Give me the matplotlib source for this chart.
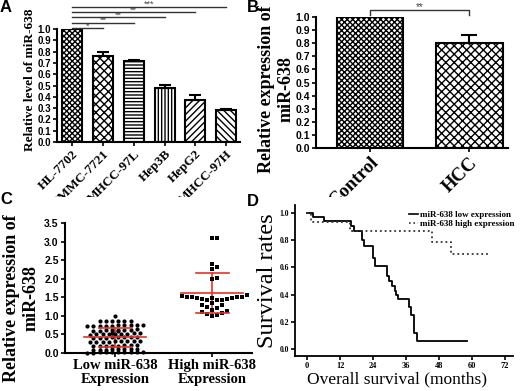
import numpy as np
import matplotlib
matplotlib.use("Agg")
import matplotlib.pyplot as plt
from matplotlib.lines import Line2D
from matplotlib.transforms import Bbox, TransformedBbox

SERIF = "Liberation Serif"
SANS = "Liberation Sans"
W, H = 520, 391

# panel A - cell lines
cell_lines = ["HL-7702", "SMMC-7721", "MHCC-97L", "Hep3B", "HepG2", "MHCC-97H"]
cell_level = [1.0, 0.76, 0.715, 0.475, 0.375, 0.28]
cell_err = [0.0, 0.035, 0.015, 0.03, 0.045, 0.01]
cell_hatch = ["xxxxxx", "xxxx", "-----", "|||||", "/////", "\\\\\\\\\\"]
cell_stars = ["*", "**", "**", "**", "***"]

# panel B - tissues
tissues = ["Control", "HCC"]
tissue_level = [1.0, 0.80]
tissue_err = [0.0, 0.065]
tissue_hatch = ["xxxxxx", "xxxx"]

# panel C - scatter
low_expr = [1.0,
            0.87, 0.86, 0.85, 0.85, 0.86, 0.87,
            0.76, 0.75, 0.74, 0.73, 0.75, 0.74, 0.76, 0.72, 0.73, 0.75,
            0.64, 0.63, 0.62, 0.60, 0.61, 0.62, 0.63, 0.59, 0.60,
            0.53, 0.52, 0.51, 0.50, 0.52, 0.53, 0.50, 0.51, 0.54, 0.49,
            0.43, 0.42, 0.41, 0.40, 0.42, 0.44, 0.41, 0.43,
            0.32, 0.31, 0.30, 0.29, 0.31, 0.33, 0.30, 0.32, 0.29,
            0.21, 0.20, 0.19, 0.18, 0.20, 0.22, 0.19, 0.21,
            0.11, 0.10, 0.09, 0.08, 0.10, 0.12, 0.09, 0.11,
            0.03, 0.02, 0.01, 0.02, 0.03, 0.04, 0.02, 0.01, 0.03, 0.02]
high_expr = [3.1, 3.1, 2.4, 2.32, 2.25, 2.02, 2.0,
             1.55, 1.54, 1.52, 1.51, 1.5, 1.5, 1.49, 1.48, 1.47, 1.46, 1.45,
             1.44, 1.43, 1.42, 1.35, 1.3, 1.28, 1.25, 1.2, 1.17, 1.12, 1.1,
             1.08, 1.05, 1.02, 1.0]
group_names = ["Low miR-638\nExpression", "High miR-638\nExpression"]
group_mean = [0.42, 1.62]
group_sd = [0.25, 0.54]

# panel D - survival
low_months = [0, 2.0, 6.0, 15.8, 17.0, 19.9, 20.8, 23.8, 24.8, 29.0, 29.7,
              30.8, 31.8, 32.4, 33.2, 37.0, 37.8, 38.9, 39.8]
low_surv = [1.0, 0.97, 0.94, 0.905, 0.87, 0.80, 0.76, 0.67, 0.61, 0.54, 0.50,
            0.46, 0.43, 0.40, 0.37, 0.31, 0.25, 0.12, 0.06]
low_end = 58
high_months = [0, 1.5, 15.5, 45.3, 52.4]
high_surv = [1.0, 0.935, 0.87, 0.79, 0.70]
high_end = 66


def px_axes(l, t, r, b):
    return fig.add_axes([l / W, 1 - b / H, (r - l) / W, (b - t) / H])


def style(ax, lw=1.5):
    for s in ["top", "right"]:
        ax.spines[s].set_visible(False)
    for s in ["left", "bottom"]:
        ax.spines[s].set_linewidth(lw)
    ax.tick_params(direction="out", length=3, width=1.2, pad=1.5)


def swarm(vals, xpu, ypu, d):
    # greedy beeswarm in pixel space
    vals = np.asarray(vals)
    xs = np.zeros(len(vals))
    placed = []
    offs = [0]
    for j in range(1, 60):
        offs += [j * d * 0.5, -j * d * 0.5]
    for i in np.argsort(vals):
        y = vals[i] * ypu
        for o in offs:
            if all((o - a) ** 2 + (y - b) ** 2 >= d * d for a, b in placed):
                break
        placed.append((o, y))
        xs[i] = o / xpu
    return xs


def rows(vals, xpu, d, gap=0.05):
    # graphpad style: close values share a row, spread evenly
    vals = np.asarray(vals)
    order = np.argsort(vals)
    xs = np.zeros(len(vals))
    groups, cur = [], [order[0]]
    for i in order[1:]:
        if vals[i] - vals[cur[0]] > gap:
            groups.append(cur)
            cur = [i]
        else:
            cur.append(i)
    groups.append(cur)
    for g in groups:
        n = len(g)
        for j, i in enumerate(g):
            xs[i] = (j - (n - 1) / 2) * d / xpu
    return xs


fig = plt.figure(figsize=(W / 100, H / 100), dpi=100)
clip = TransformedBbox(Bbox([[0, 0.496], [1, 1]]), fig.transFigure)

# ---------- A ----------
ax = px_axes(57, 29, 240, 142)
x = np.arange(len(cell_lines))
ax.bar(x, cell_level, width=0.65, color="white", edgecolor="black",
       linewidth=1.5, hatch=cell_hatch)
ax.errorbar(x, cell_level, yerr=[np.zeros(len(x)), cell_err], fmt="none",
            ecolor="black", elinewidth=1.5, capsize=4, capthick=1.5)
ax.set_xlim(-0.49, 5.45)
ax.set_ylim(0, 1.0)
ax.set_yticks(np.arange(0, 1.01, 0.1))
ax.set_yticklabels([f"{v:.1f}" for v in np.arange(0, 1.01, 0.1)],
                   fontfamily=SANS, fontweight="bold", fontsize=7)
ax.set_xticks(x)
ax.set_xticklabels(cell_lines, rotation=45, ha="right", va="top",
                   rotation_mode="anchor", fontfamily=SERIF,
                   fontweight="bold", fontsize=9.5)
for lbl in ax.get_xticklabels():
    lbl.set_clip_box(clip)
    lbl.set_clip_on(True)
style(ax)
ax.set_ylabel("Relative level of miR-638", fontfamily=SERIF,
              fontweight="bold", fontsize=9.5)
ax.yaxis.set_label_coords(-0.115, 0.55)
for i, st in enumerate(cell_stars):
    yy = 1.01 + 0.047 * i
    ax.plot([0, i + 1], [yy, yy], color="#333333", lw=1, clip_on=False)
    ax.text((i + 1) / 2, yy + 0.018, st, ha="center", va="center",
            fontsize=6.5, color="#444444", fontfamily=SANS)

# ---------- B ----------
ax = px_axes(316, 17, 508, 148)
x = np.arange(len(tissues))
ax.bar(x, tissue_level, width=0.67, color="white", edgecolor="black",
       linewidth=1.5, hatch=tissue_hatch)
ax.errorbar(x, tissue_level, yerr=[np.zeros(len(x)), tissue_err], fmt="none",
            ecolor="black", elinewidth=1.5, capsize=6, capthick=1.5)
ax.set_xlim(-0.545, 1.39)
ax.set_ylim(0, 1.0)
ax.set_yticks(np.arange(0, 1.01, 0.1))
ax.set_yticklabels([f"{v:.1f}" for v in np.arange(0, 1.01, 0.1)],
                   fontfamily=SANS, fontweight="bold", fontsize=7.5)
ax.set_xticks(x)
ax.set_xticklabels(tissues, rotation=45, ha="right", va="top",
                   rotation_mode="anchor", fontfamily=SERIF,
                   fontweight="bold", fontsize=13.5)
for lbl in ax.get_xticklabels():
    lbl.set_clip_box(clip)
    lbl.set_clip_on(True)
style(ax)
ax.set_ylabel("Relative expression of\nmiR-638", fontfamily=SERIF,
              fontweight="bold", fontsize=13)
ax.yaxis.set_label_coords(-0.11, 0.45)
ax.plot([0, 0, 1, 1], [1.015, 1.052, 1.052, 1.015], color="#333333", lw=1,
        clip_on=False)
ax.text(0.5, 1.075, "**", ha="center", va="center", fontsize=7,
        color="#444444", fontfamily=SANS)

# ---------- C ----------
ax = px_axes(65, 223, 252, 353)
xpu, ypu = 97.0, 130 / 3.5
xs_low = rows(low_expr, xpu, 6.2)
xs_high = swarm(high_expr, xpu, ypu, 5.0)
ax.scatter(0 + xs_low, low_expr, s=9, marker="o", color="black", zorder=3,
           linewidths=0, clip_on=False)
ax.scatter(1 + xs_high, high_expr, s=11, marker="s", color="black", zorder=3,
           linewidths=0, clip_on=False)
red = "#e3342f"
for g in range(2):
    m, sd = group_mean[g], group_sd[g]
    ax.plot([g - 0.32, g + 0.32], [m, m], color=red, lw=1.2, zorder=4)
    ax.plot([g - 0.17, g + 0.17], [m + sd, m + sd], color=red, lw=1.2, zorder=4)
    ax.plot([g - 0.17, g + 0.17], [m - sd, m - sd], color=red, lw=1.2, zorder=4)
    ax.plot([g, g], [m - sd, m + sd], color=red, lw=1.2, zorder=2)
ax.set_xlim(-0.515, 1.41)
ax.set_ylim(0, 3.5)
ax.set_yticks(np.arange(0, 3.51, 0.5))
ax.set_yticklabels([f"{v:.1f}" for v in np.arange(0, 3.51, 0.5)],
                   fontfamily=SANS, fontweight="bold", fontsize=7.5)
ax.set_xticks([0, 1])
ax.set_xticklabels(group_names, fontfamily=SERIF, fontweight="bold",
                   fontsize=10.5, linespacing=1.1)
style(ax)
ax.set_ylabel("Relative expression of\nmiR-638", fontfamily=SERIF,
              fontweight="bold", fontsize=13)
ax.yaxis.set_label_coords(-0.135, 0.42)

# ---------- D ----------
ax = px_axes(295, 205, 513, 356)
ax.step(low_months + [low_end], low_surv + [low_surv[-1]], where="post",
        color="black", lw=1.3)
ax.step(high_months + [high_end], high_surv + [high_surv[-1]], where="post",
        color="#333333", lw=1.3, linestyle=":")
ax.set_xlim(-4.4, 74.9)
ax.set_ylim(-0.051, 1.059)
ax.set_xticks(np.arange(0, 73, 12))
ax.set_xticklabels([str(v) for v in range(0, 73, 12)], fontfamily=SERIF,
                   fontweight="bold", fontsize=6)
ax.set_yticks(np.arange(0, 1.01, 0.2))
ax.set_yticklabels([f"{v:.1f}" for v in np.arange(0, 1.01, 0.2)],
                   fontfamily=SERIF, fontweight="bold", fontsize=5.5)
style(ax, lw=1.3)
ax.set_ylabel("Survival rates", fontfamily=SERIF, fontsize=17.5)
ax.yaxis.set_label_coords(-0.08, 0.5)
ax.set_xlabel("Overall survival (months)", fontfamily=SERIF, fontsize=12.5)
ax.xaxis.set_label_coords(0.47, -0.10)
handles = [Line2D([], [], color="black", lw=1.2),
           Line2D([], [], color="#333333", lw=1.2, linestyle=":")]
ax.legend(handles, ["miR-638 low expression", "miR-638 high expression"],
          loc="upper right", bbox_to_anchor=(1.03, 1.0), frameon=False,
          prop={"family": SERIF, "weight": "bold", "size": 6.5},
          handlelength=1.0, handletextpad=0.2, labelspacing=0.15,
          borderpad=0.1)

# panel letters
for lab, (xp, yp) in {"A": (6, 8), "B": (253, 8), "C": (6, 199),
                      "D": (253, 202)}.items():
    fig.text(xp / W, 1 - yp / H, lab, fontfamily=SANS, fontweight="bold",
             fontsize=12, ha="center", va="center")

fig.savefig("out.png", dpi=100)
